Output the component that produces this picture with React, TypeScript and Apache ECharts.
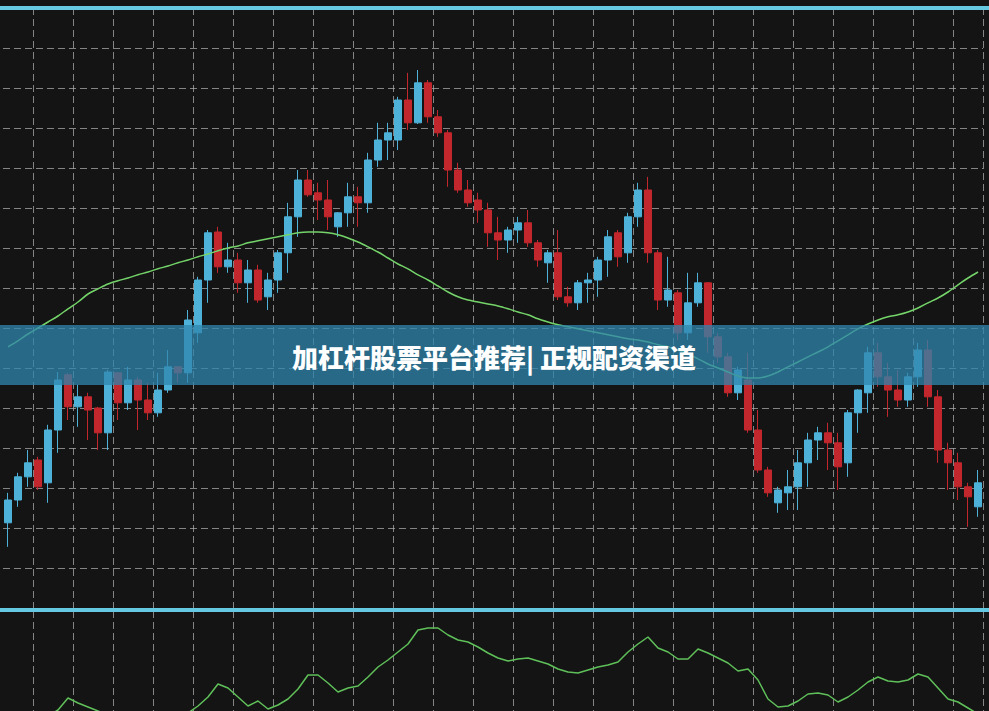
import React, { useEffect, useRef } from "react";
import * as echarts from "echarts";

// Candles: [open, close, low, high]
const candles: number[][] = [
  [12.13, 12.70, 11.53, 12.88], [12.70, 13.28, 12.53, 13.38], [13.28, 13.63, 13.03, 13.95], [13.70, 13.03, 12.95, 13.78],
  [13.13, 14.45, 12.63, 14.58], [14.45, 15.70, 13.88, 15.90], [15.83, 15.03, 14.70, 15.88], [15.03, 15.28, 14.53, 15.58],
  [15.28, 14.95, 14.20, 15.38], [15.00, 14.38, 13.95, 15.03], [14.38, 15.90, 13.95, 15.95], [15.88, 15.13, 14.70, 15.90],
  [15.13, 15.70, 14.95, 16.03], [15.70, 15.20, 14.45, 15.78], [15.20, 14.88, 14.70, 15.63], [14.88, 15.45, 14.78, 15.88],
  [15.45, 16.03, 15.38, 16.45], [16.03, 15.88, 15.63, 16.05], [15.88, 17.20, 15.63, 17.45], [16.88, 18.20, 16.63, 18.28],
  [18.20, 19.38, 17.63, 19.45], [19.40, 18.53, 18.38, 19.53], [18.53, 18.70, 18.38, 19.13], [18.70, 18.13, 17.88, 18.88],
  [18.13, 18.45, 17.63, 18.70], [18.45, 17.70, 17.63, 18.58], [17.78, 18.20, 17.45, 18.38], [18.20, 18.88, 17.88, 18.95],
  [18.88, 19.78, 18.38, 20.13], [19.78, 20.70, 19.28, 20.95], [20.70, 20.33, 20.28, 20.95], [20.38, 20.20, 19.70, 20.63],
  [20.20, 19.78, 19.45, 20.70], [19.53, 19.88, 19.28, 19.90], [19.88, 20.28, 19.53, 20.63], [20.28, 20.13, 19.53, 20.53],
  [20.13, 21.20, 19.88, 21.38], [21.20, 21.70, 21.03, 22.13], [21.70, 21.88, 21.20, 22.13], [21.70, 22.70, 21.45, 22.78],
  [22.70, 22.13, 21.95, 23.38], [22.13, 23.13, 22.10, 23.45], [23.13, 22.28, 22.13, 23.20], [22.28, 21.88, 21.78, 22.45],
  [21.88, 20.95, 20.53, 21.95], [20.95, 20.45, 20.38, 21.13], [20.45, 20.13, 20.03, 20.70], [20.20, 19.95, 19.63, 20.38],
  [19.95, 19.38, 19.03, 20.13], [19.38, 19.20, 18.70, 19.78], [19.20, 19.45, 18.88, 19.53], [19.45, 19.63, 19.13, 19.78],
  [19.63, 19.13, 19.03, 19.95], [19.13, 18.70, 18.53, 19.20], [18.63, 18.88, 18.13, 18.95], [18.88, 17.78, 17.70, 19.45],
  [17.78, 17.63, 17.53, 18.03], [17.63, 18.13, 17.45, 18.20], [18.13, 18.20, 17.63, 18.38], [18.20, 18.70, 17.78, 18.78],
  [18.70, 19.28, 18.28, 19.45], [19.38, 18.78, 18.53, 19.45], [18.88, 19.78, 18.63, 19.88], [19.78, 20.45, 19.53, 20.63],
  [20.45, 18.88, 18.63, 20.78], [18.88, 17.70, 17.45, 18.95], [17.70, 17.95, 17.53, 18.78], [17.88, 16.88, 16.70, 17.95],
  [16.88, 17.63, 16.70, 18.38], [17.63, 18.13, 17.53, 18.38], [18.13, 16.78, 16.38, 18.15], [16.78, 16.28, 16.13, 16.88],
  [16.28, 15.38, 15.28, 16.38], [15.38, 15.95, 15.20, 16.03], [15.70, 14.45, 14.38, 16.38], [14.45, 13.45, 13.38, 14.95],
  [13.45, 12.88, 12.78, 13.53], [12.63, 12.95, 12.38, 13.03], [12.88, 13.03, 12.45, 13.45], [13.03, 13.63, 12.45, 13.95],
  [13.63, 14.20, 13.03, 14.38], [14.20, 14.38, 13.70, 14.53], [14.38, 14.13, 13.45, 14.63], [14.13, 13.53, 12.95, 14.38],
  [13.63, 14.88, 13.28, 14.95], [14.88, 15.45, 14.38, 15.47], [15.38, 16.38, 14.88, 16.53], [16.38, 15.78, 15.53, 16.63],
  [15.78, 15.45, 14.78, 16.13], [15.45, 15.20, 15.03, 15.95], [15.20, 15.78, 15.03, 15.88], [15.78, 16.45, 15.53, 16.63],
  [16.45, 15.28, 15.03, 16.70], [15.28, 13.95, 13.63, 15.45], [13.95, 13.63, 12.95, 14.13], [13.63, 13.03, 12.70, 13.88],
  [13.03, 12.78, 12.03, 13.13], [12.53, 13.13, 12.28, 13.45],
];

// Moving average line
const maLine: number[] = [
  16.53, 16.68, 16.85, 17.00, 17.15, 17.30, 17.48, 17.65, 17.85, 17.98,
  18.10, 18.18, 18.25, 18.33, 18.40, 18.48, 18.55, 18.63, 18.70, 18.78,
  18.85, 18.93, 19.00, 19.05, 19.13, 19.18, 19.23, 19.28, 19.33, 19.38,
  19.40, 19.40, 19.38, 19.33, 19.25, 19.15, 19.03, 18.90, 18.75, 18.60,
  18.48, 18.33, 18.20, 18.05, 17.90, 17.78, 17.70, 17.65, 17.60, 17.55,
  17.48, 17.40, 17.33, 17.23, 17.15, 17.08, 17.03, 16.98, 16.93, 16.88,
  16.83, 16.78, 16.73, 16.70, 16.65, 16.58, 16.53, 16.45, 16.35, 16.23,
  16.10, 16.00, 15.90, 15.80, 15.75, 15.75, 15.80, 15.90, 16.03, 16.15,
  16.28, 16.40, 16.53, 16.68, 16.83, 16.98, 17.10, 17.20, 17.28, 17.33,
  17.40, 17.50, 17.63, 17.75, 17.90, 18.08, 18.25, 18.40,
];

// Lower-panel oscillator
const oscLine: number[] = [
  -15, -12, -10, -8, -5, 1, 13, 8, 4, 0,
  -4, -8, -10, -12, -10, -8, -6, -4, -2, 5,
  14, 27, 23, 14, 5, 10, 2, 6, 12, 22,
  36, 36, 28, 19, 23, 25, 34, 44, 51, 59,
  67, 81, 83, 83, 76, 71, 69, 64, 58, 53,
  50, 52, 53, 50, 47, 42, 39, 38, 41, 44,
  46, 49, 59, 67, 74, 63, 59, 52, 52, 62,
  58, 53, 48, 40, 42, 31, 12, 4, 5, 10,
  17, 18, 16, 9, 14, 21, 29, 34, 30, 29,
  31, 37, 34, 23, 12, 9, 3, -3,
];

const categories: string[] = candles.map((_, i) => `D${i + 1}`);

const bannerText = "加杠杆股票平台推荐| 正规配资渠道";

const UP = "#4eb1d8";
const DOWN = "#c2272d";
const GRID_COLOR = "rgba(170,170,170,0.75)";

export default function App() {
  const ref = useRef<HTMLDivElement>(null);
  useEffect(() => {
    if (!ref.current) return;
    const chart = echarts.init(ref.current, undefined, { renderer: "svg" });
    const splitX = {
      show: true,
      interval: (i: number) => i % 4 === 3,
      lineStyle: { color: GRID_COLOR, width: 1, type: [7, 4] as any },
    };
    const hiddenAxis = {
      axisLine: { show: false },
      axisTick: { show: false },
      axisLabel: { show: false },
    };
    chart.setOption({
      animation: false,
      backgroundColor: "#141414",
      grid: [
        { left: 3, width: 980, top: 8, height: 600 },
        { left: 3, width: 980, top: 611, height: 100 },
      ],
      xAxis: [
        { type: "category", gridIndex: 0, data: categories, boundaryGap: true, splitLine: splitX, ...hiddenAxis },
        { type: "category", gridIndex: 1, data: categories, boundaryGap: true, splitLine: splitX, ...hiddenAxis },
      ],
      yAxis: [
        {
          type: "value", gridIndex: 0, min: 10, max: 25, interval: 1, scale: true,
          splitLine: { show: true, lineStyle: { color: GRID_COLOR, width: 1, type: [7, 4] } },
          ...hiddenAxis,
        },
        { type: "value", gridIndex: 1, min: 0, max: 100, splitLine: { show: false }, ...hiddenAxis },
      ],
      series: [
        {
          type: "candlestick",
          xAxisIndex: 0,
          yAxisIndex: 0,
          data: candles,
          barWidth: 7,
          itemStyle: { color: UP, color0: DOWN, borderColor: UP, borderColor0: DOWN, borderWidth: 1 },
          z: 3,
        },
        {
          type: "line",
          xAxisIndex: 0,
          yAxisIndex: 0,
          data: maLine,
          showSymbol: false,
          smooth: 0.3,
          lineStyle: { color: "#74d46a", width: 1.5 },
          z: 4,
        },
        {
          type: "line",
          xAxisIndex: 1,
          yAxisIndex: 1,
          data: oscLine,
          showSymbol: false,
          clip: true,
          lineStyle: { color: "#5fc05a", width: 1.5 },
        },
      ],
      graphic: [
        { type: "rect", z: 100, shape: { x: 0, y: 6, width: 989, height: 4 }, style: { fill: "#66c9e2" } },
        { type: "rect", z: 100, shape: { x: 0, y: 608, width: 989, height: 4 }, style: { fill: "#66c9e2" } },
        { type: "rect", z: 100, shape: { x: 0, y: 325, width: 989, height: 60 }, style: { fill: "rgba(47,133,173,0.75)" } },
        {
          type: "text",
          z: 101,
          x: 494,
          y: 356,
          style: {
            text: bannerText,
            fill: "#ffffff",
            font: '900 26px "Noto Sans CJK SC"',
            textAlign: "center",
            textVerticalAlign: "middle",
            verticalAlign: "middle",
          },
        },
      ],
    });
    return () => chart.dispose();
  }, []);
  return (
    <div
      ref={ref}
      style={{ position: "fixed", left: 0, top: 0, width: 989, height: 711 }}
    />
  );
}
